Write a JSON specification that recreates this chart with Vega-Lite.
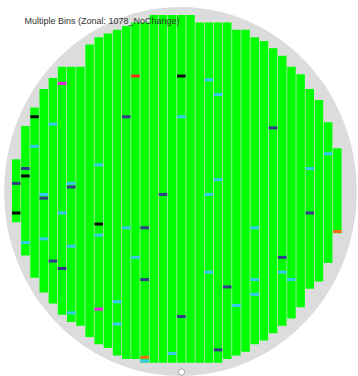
{
  "$schema": "https://vega.github.io/schema/vega-lite/v6.json",
  "width": 358,
  "height": 376,
  "padding": 0,
  "autosize": {"type": "none"},
  "background": "white",
  "config": {"view": {"stroke": null}},
  "datasets": {
    "wafer": [{"cx": 17.9, "cy": 47.2}],
    "notch": [{"nx": 18.03, "ny": 96.0}],
    "title": [{"tx": 0.9, "ty": 2.0, "label": "Multiple Bins (Zonal: 1078_NoChange)"}],
    "columns": [
      {"col": 0, "first": 39, "last": 55},
      {"col": 1, "first": 30, "last": 64},
      {"col": 2, "first": 25, "last": 70},
      {"col": 3, "first": 20, "last": 74},
      {"col": 4, "first": 17, "last": 77},
      {"col": 5, "first": 14, "last": 80},
      {"col": 6, "first": 14, "last": 82},
      {"col": 7, "first": 14, "last": 83},
      {"col": 8, "first": 8, "last": 86},
      {"col": 9, "first": 6, "last": 88},
      {"col": 10, "first": 5, "last": 89},
      {"col": 11, "first": 4, "last": 91},
      {"col": 12, "first": 3, "last": 92},
      {"col": 13, "first": 2, "last": 92},
      {"col": 14, "first": 2, "last": 93},
      {"col": 15, "first": 0, "last": 93},
      {"col": 16, "first": 0, "last": 93},
      {"col": 17, "first": 0, "last": 93},
      {"col": 18, "first": 0, "last": 93},
      {"col": 19, "first": 0, "last": 93},
      {"col": 20, "first": 2, "last": 93},
      {"col": 21, "first": 2, "last": 93},
      {"col": 22, "first": 2, "last": 93},
      {"col": 23, "first": 2, "last": 92},
      {"col": 24, "first": 4, "last": 91},
      {"col": 25, "first": 4, "last": 90},
      {"col": 26, "first": 6, "last": 88},
      {"col": 27, "first": 7, "last": 87},
      {"col": 28, "first": 9, "last": 85},
      {"col": 29, "first": 11, "last": 83},
      {"col": 30, "first": 14, "last": 81},
      {"col": 31, "first": 16, "last": 78},
      {"col": 32, "first": 20, "last": 73},
      {"col": 33, "first": 23, "last": 71},
      {"col": 34, "first": 29, "last": 66},
      {"col": 35, "first": 36, "last": 58}
    ],
    "dies": [
      {"col": 5, "row": 18, "bin": "magenta"},
      {"col": 13, "row": 16, "bin": "red"},
      {"col": 18, "row": 16, "bin": "black"},
      {"col": 21, "row": 17, "bin": "cyan"},
      {"col": 22, "row": 21, "bin": "cyan"},
      {"col": 2, "row": 27, "bin": "black"},
      {"col": 12, "row": 27, "bin": "navy"},
      {"col": 18, "row": 27, "bin": "cyan"},
      {"col": 4, "row": 29, "bin": "cyan"},
      {"col": 28, "row": 30, "bin": "navy"},
      {"col": 2, "row": 35, "bin": "cyan"},
      {"col": 34, "row": 37, "bin": "cyan"},
      {"col": 9, "row": 40, "bin": "cyan"},
      {"col": 1, "row": 41, "bin": "navy"},
      {"col": 32, "row": 41, "bin": "cyan"},
      {"col": 1, "row": 43, "bin": "black"},
      {"col": 22, "row": 44, "bin": "cyan"},
      {"col": 0, "row": 45, "bin": "navy"},
      {"col": 6, "row": 45, "bin": "cyan"},
      {"col": 6, "row": 46, "bin": "navy"},
      {"col": 16, "row": 48, "bin": "navy"},
      {"col": 3, "row": 48, "bin": "cyan"},
      {"col": 3, "row": 49, "bin": "navy"},
      {"col": 21, "row": 48, "bin": "cyan"},
      {"col": 5, "row": 53, "bin": "cyan"},
      {"col": 0, "row": 53, "bin": "black"},
      {"col": 32, "row": 53, "bin": "navy"},
      {"col": 9, "row": 56, "bin": "black"},
      {"col": 12, "row": 57, "bin": "cyan"},
      {"col": 14, "row": 57, "bin": "navy"},
      {"col": 26, "row": 57, "bin": "cyan"},
      {"col": 35, "row": 58, "bin": "orange"},
      {"col": 9, "row": 59, "bin": "cyan"},
      {"col": 3, "row": 60, "bin": "cyan"},
      {"col": 1, "row": 61, "bin": "cyan"},
      {"col": 6, "row": 62, "bin": "cyan"},
      {"col": 13, "row": 65, "bin": "cyan"},
      {"col": 29, "row": 65, "bin": "navy"},
      {"col": 4, "row": 66, "bin": "navy"},
      {"col": 5, "row": 68, "bin": "navy"},
      {"col": 21, "row": 69, "bin": "cyan"},
      {"col": 29, "row": 69, "bin": "cyan"},
      {"col": 14, "row": 71, "bin": "navy"},
      {"col": 26, "row": 71, "bin": "cyan"},
      {"col": 30, "row": 71, "bin": "cyan"},
      {"col": 23, "row": 73, "bin": "navy"},
      {"col": 26, "row": 75, "bin": "cyan"},
      {"col": 11, "row": 77, "bin": "cyan"},
      {"col": 24, "row": 78, "bin": "cyan"},
      {"col": 9, "row": 79, "bin": "magenta"},
      {"col": 6, "row": 80, "bin": "cyan"},
      {"col": 18, "row": 81, "bin": "navy"},
      {"col": 11, "row": 83, "bin": "cyan"},
      {"col": 22, "row": 90, "bin": "navy"},
      {"col": 17, "row": 91, "bin": "cyan"},
      {"col": 14, "row": 92, "bin": "orange"},
      {"col": 14, "row": 93, "bin": "cyan"}
    ]
  },
  "layer": [
    {
      "data": {"name": "wafer"},
      "mark": {
        "type": "point",
        "filled": true,
        "opacity": 1,
        "color": "#dcdcdc",
        "strokeWidth": 0,
        "size": 136161,
        "shape": "M0.9556,0C0.9556,0.5523,0.5278,1,0,1C-0.5278,1,-0.9556,0.5523,-0.9556,0C-0.9556,-0.5523,-0.5278,-1,0,-1C0.5278,-1,0.9556,-0.5523,0.9556,0Z"
      },
      "encoding": {
        "x": {"field": "cx", "type": "quantitative", "scale": {"domain": [-1.2217, 36.71], "nice": false, "zero": false}, "axis": null},
        "y": {"field": "cy", "type": "quantitative", "scale": {"domain": [-4.554, 97.068], "nice": false, "zero": false, "reverse": true}, "axis": null}
      }
    },
    {
      "data": {"name": "columns"},
      "mark": {"type": "bar", "width": 8.5, "color": "#00ff00", "yOffset": -1.85, "y2Offset": 1.85},
      "encoding": {
        "x": {"field": "col", "type": "quantitative"},
        "y": {"field": "first", "type": "quantitative"},
        "y2": {"field": "last"}
      }
    },
    {
      "data": {"name": "dies"},
      "mark": {"type": "bar", "width": 8.5, "yOffset": -1.5, "y2Offset": 1.5},
      "encoding": {
        "x": {"field": "col", "type": "quantitative"},
        "y": {"field": "row", "type": "quantitative"},
        "y2": {"field": "row"},
        "color": {
          "field": "bin",
          "type": "nominal",
          "scale": {
            "domain": ["cyan", "navy", "black", "red", "orange", "magenta"],
            "range": ["#38c8f0", "#323c8a", "#0a0a0a", "#f0301c", "#ff6a14", "#f020e0"]
          },
          "legend": null
        }
      }
    },
    {
      "data": {"name": "notch"},
      "mark": {"type": "point", "shape": "circle", "filled": true, "opacity": 1, "fill": "white", "stroke": "#9a9a9a", "strokeWidth": 0.8, "size": 40},
      "encoding": {
        "x": {"field": "nx", "type": "quantitative"},
        "y": {"field": "ny", "type": "quantitative"}
      }
    },
    {
      "data": {"name": "title"},
      "mark": {"type": "text", "align": "left", "baseline": "alphabetic", "font": "Liberation Sans", "fontSize": 9, "color": "#333333"},
      "encoding": {
        "x": {"field": "tx", "type": "quantitative"},
        "y": {"field": "ty", "type": "quantitative"},
        "text": {"field": "label"}
      }
    }
  ]
}
